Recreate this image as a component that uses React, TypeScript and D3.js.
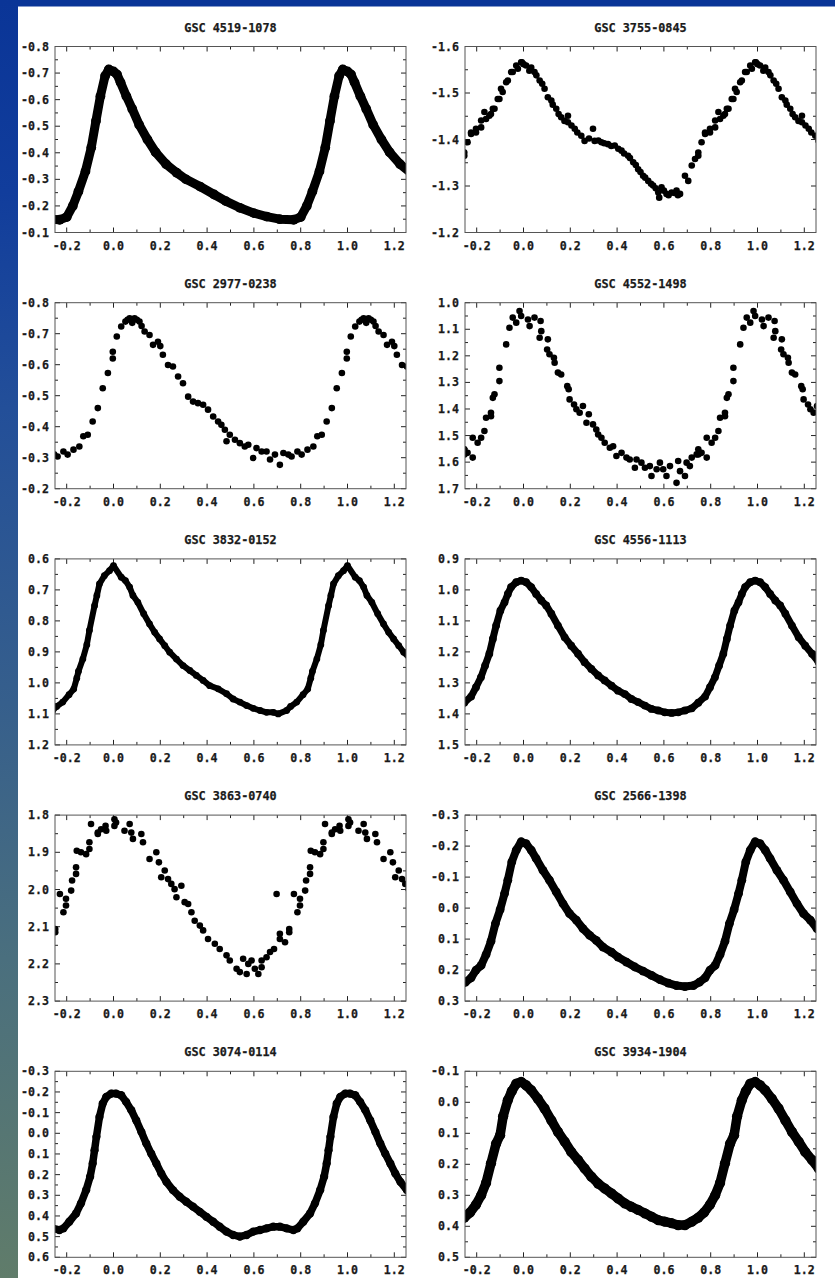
import * as d3 from "d3";

// star names, in reading order (left column, right column, row by row)
const titles = [
  "GSC 4519-1078",
  "GSC 3755-0845",
  "GSC 2977-0238",
  "GSC 4552-1498",
  "GSC 3832-0152",
  "GSC 4556-1113",
  "GSC 3863-0740",
  "GSC 2566-1398",
  "GSC 3074-0114",
  "GSC 3934-1904",
];

// y axis [top label, bottom label] for each panel
const yRanges = [
  [-0.8, -0.1],
  [-1.6, -1.2],
  [-0.8, -0.2],
  [1.0, 1.7],
  [0.6, 1.2],
  [0.9, 1.5],
  [1.8, 2.3],
  [-0.3, 0.3],
  [-0.3, 0.6],
  [-0.1, 0.5],
];

const xTicks = [-0.2, 0, 0.2, 0.4, 0.6, 0.8, 1.0, 1.2];

// phase (0..1), magnitude – repeated one cycle either side when drawn
const gsc4519_1078 = [
  [0.0, -0.706], [0.015, -0.695], [0.03, -0.665], [0.055, -0.613], [0.08, -0.565],
  [0.11, -0.505], [0.145, -0.45], [0.18, -0.402], [0.225, -0.357], [0.27, -0.325],
  [0.31, -0.3], [0.37, -0.273], [0.43, -0.243], [0.48, -0.218], [0.54, -0.193],
  [0.6, -0.173], [0.655, -0.16], [0.71, -0.15], [0.77, -0.148], [0.8, -0.158],
  [0.826, -0.2], [0.85, -0.254], [0.88, -0.33], [0.905, -0.42], [0.925, -0.52],
  [0.944, -0.613], [0.964, -0.689], [0.98, -0.714],
];

const gsc3755_0845 = [
  [0.0, -1.562], [0.011, -1.559], [0.025, -1.548], [0.033, -1.555], [0.047, -1.545],
  [0.055, -1.538], [0.069, -1.527], [0.08, -1.52], [0.09, -1.509], [0.104, -1.491],
  [0.119, -1.484], [0.125, -1.475], [0.14, -1.466], [0.15, -1.455], [0.161, -1.448],
  [0.175, -1.44], [0.19, -1.437], [0.19, -1.451], [0.205, -1.43], [0.219, -1.423],
  [0.23, -1.415], [0.247, -1.408], [0.261, -1.397], [0.28, -1.402], [0.297, -1.423],
  [0.304, -1.397], [0.32, -1.398], [0.333, -1.394], [0.345, -1.392], [0.361, -1.39],
  [0.375, -1.386], [0.39, -1.387], [0.405, -1.38], [0.419, -1.376], [0.43, -1.37],
  [0.447, -1.365], [0.455, -1.36], [0.469, -1.351], [0.48, -1.345], [0.49, -1.336],
  [0.5, -1.33], [0.511, -1.322], [0.52, -1.318], [0.533, -1.311], [0.545, -1.305],
  [0.554, -1.301], [0.565, -1.295], [0.576, -1.286], [0.58, -1.275], [0.59, -1.297],
  [0.6, -1.29], [0.611, -1.283], [0.62, -1.28], [0.633, -1.286], [0.645, -1.285],
  [0.654, -1.29], [0.66, -1.28], [0.669, -1.283], [0.69, -1.322], [0.704, -1.311],
  [0.719, -1.344], [0.733, -1.358], [0.747, -1.365], [0.747, -1.372], [0.761, -1.394],
  [0.776, -1.412], [0.776, -1.415], [0.797, -1.415], [0.797, -1.423], [0.819, -1.426],
  [0.819, -1.441], [0.833, -1.459], [0.84, -1.444], [0.854, -1.451], [0.861, -1.455],
  [0.869, -1.466], [0.876, -1.466], [0.89, -1.487], [0.897, -1.487], [0.904, -1.509],
  [0.911, -1.502], [0.926, -1.523], [0.933, -1.527], [0.947, -1.545], [0.954, -1.545],
  [0.969, -1.559], [0.976, -1.552], [0.99, -1.566], [0.993, -1.566],
];

const gsc2977_0238 = [
  [0.014, -0.691], [0.033, -0.723], [0.051, -0.739], [0.06, -0.745], [0.069, -0.75],
  [0.08, -0.735], [0.09, -0.75], [0.1, -0.745], [0.111, -0.739], [0.12, -0.725],
  [0.133, -0.707], [0.154, -0.696], [0.169, -0.664], [0.19, -0.674], [0.2, -0.66],
  [0.211, -0.632], [0.233, -0.599], [0.254, -0.594], [0.276, -0.562], [0.297, -0.54],
  [0.319, -0.497], [0.34, -0.481], [0.361, -0.476], [0.383, -0.471], [0.404, -0.455],
  [0.426, -0.433], [0.447, -0.417], [0.461, -0.406], [0.476, -0.39], [0.483, -0.353],
  [0.497, -0.374], [0.519, -0.358], [0.54, -0.347], [0.561, -0.336], [0.576, -0.342],
  [0.597, -0.299], [0.611, -0.331], [0.633, -0.32], [0.654, -0.32], [0.669, -0.294],
  [0.69, -0.31], [0.711, -0.277], [0.726, -0.315], [0.747, -0.31], [0.761, -0.304],
  [0.786, -0.32], [0.804, -0.31], [0.829, -0.326], [0.854, -0.336], [0.871, -0.369],
  [0.89, -0.374], [0.911, -0.417], [0.933, -0.46], [0.954, -0.524], [0.976, -0.573],
  [0.997, -0.642], [0.997, -0.62],
];

const gsc4552_1498 = [
  [0.019, 1.063], [0.026, 1.088], [0.047, 1.056], [0.069, 1.132], [0.073, 1.069],
  [0.076, 1.107], [0.101, 1.176], [0.104, 1.138], [0.111, 1.194], [0.13, 1.207],
  [0.133, 1.226], [0.147, 1.263], [0.161, 1.27], [0.187, 1.314], [0.193, 1.326],
  [0.197, 1.364], [0.216, 1.383], [0.226, 1.401], [0.24, 1.414], [0.254, 1.389],
  [0.269, 1.452], [0.279, 1.42], [0.297, 1.458], [0.311, 1.477], [0.319, 1.496],
  [0.333, 1.508], [0.347, 1.527], [0.369, 1.546], [0.383, 1.54], [0.397, 1.577],
  [0.419, 1.565], [0.44, 1.583], [0.454, 1.59], [0.476, 1.621], [0.483, 1.59],
  [0.504, 1.602], [0.519, 1.621], [0.54, 1.615], [0.547, 1.652], [0.569, 1.627],
  [0.583, 1.602], [0.597, 1.627], [0.611, 1.652], [0.626, 1.615], [0.654, 1.678],
  [0.661, 1.596], [0.669, 1.634], [0.69, 1.652], [0.697, 1.602], [0.711, 1.615],
  [0.719, 1.583], [0.74, 1.571], [0.747, 1.552], [0.747, 1.571], [0.761, 1.565],
  [0.783, 1.583], [0.783, 1.508], [0.804, 1.527], [0.819, 1.508], [0.833, 1.483],
  [0.84, 1.433], [0.861, 1.427], [0.861, 1.414], [0.869, 1.358], [0.876, 1.345],
  [0.897, 1.295], [0.897, 1.245], [0.926, 1.157], [0.94, 1.094], [0.954, 1.056],
  [0.969, 1.075], [0.983, 1.031], [0.99, 1.05],
];

const gsc3832_0152 = [
  [0.0, 0.622], [0.033, 0.659], [0.051, 0.67], [0.069, 0.691], [0.083, 0.718],
  [0.104, 0.74], [0.129, 0.777], [0.154, 0.81], [0.176, 0.837], [0.197, 0.858],
  [0.219, 0.88], [0.24, 0.901], [0.269, 0.923], [0.297, 0.944], [0.326, 0.96],
  [0.354, 0.976], [0.383, 0.992], [0.411, 1.009], [0.447, 1.019], [0.483, 1.035],
  [0.511, 1.052], [0.54, 1.062], [0.569, 1.073], [0.597, 1.082], [0.626, 1.089],
  [0.654, 1.095], [0.683, 1.095], [0.704, 1.1], [0.74, 1.089], [0.757, 1.076],
  [0.783, 1.062], [0.81, 1.038], [0.83, 1.02], [0.843, 0.985], [0.85, 0.963],
  [0.869, 0.923], [0.886, 0.877], [0.897, 0.831], [0.919, 0.751], [0.929, 0.718],
  [0.94, 0.681], [0.961, 0.654], [0.983, 0.638],
];

const gsc4556_1113 = [
  [0.011, 0.975], [0.033, 0.991], [0.054, 1.013], [0.076, 1.034], [0.097, 1.05],
  [0.119, 1.077], [0.147, 1.115], [0.176, 1.153], [0.204, 1.18], [0.233, 1.206],
  [0.261, 1.233], [0.29, 1.255], [0.319, 1.276], [0.347, 1.292], [0.376, 1.309],
  [0.404, 1.325], [0.433, 1.336], [0.461, 1.352], [0.49, 1.362], [0.519, 1.373],
  [0.547, 1.384], [0.576, 1.389], [0.604, 1.395], [0.633, 1.397], [0.661, 1.395],
  [0.69, 1.389], [0.719, 1.382], [0.747, 1.364], [0.776, 1.344], [0.797, 1.314],
  [0.818, 1.282], [0.836, 1.244], [0.854, 1.206], [0.869, 1.158], [0.883, 1.115],
  [0.901, 1.067], [0.919, 1.04], [0.933, 1.013], [0.947, 0.991], [0.969, 0.975],
  [0.99, 0.97],
];

const gsc3863_0740 = [
  [0.004, 1.811], [0.004, 1.829], [0.011, 1.82], [0.047, 1.842], [0.069, 1.824],
  [0.076, 1.847], [0.083, 1.864], [0.119, 1.851], [0.126, 1.873], [0.154, 1.918],
  [0.183, 1.9], [0.194, 1.927], [0.204, 1.967], [0.219, 1.949], [0.233, 1.972],
  [0.247, 1.985], [0.261, 1.999], [0.269, 2.021], [0.29, 1.99], [0.304, 2.034],
  [0.319, 2.039], [0.333, 2.061], [0.347, 2.084], [0.369, 2.097], [0.383, 2.11],
  [0.404, 2.133], [0.433, 2.146], [0.454, 2.16], [0.483, 2.177], [0.497, 2.191],
  [0.526, 2.213], [0.54, 2.222], [0.554, 2.186], [0.569, 2.227], [0.576, 2.2],
  [0.59, 2.191], [0.604, 2.213], [0.619, 2.227], [0.633, 2.209], [0.633, 2.191],
  [0.654, 2.182], [0.669, 2.168], [0.686, 2.16], [0.697, 2.012], [0.711, 2.133],
  [0.711, 2.119], [0.733, 2.142], [0.751, 2.106], [0.751, 2.115], [0.771, 2.012],
  [0.786, 2.061], [0.797, 2.043], [0.797, 2.025], [0.819, 2.003], [0.823, 1.976],
  [0.84, 1.958], [0.84, 1.94], [0.843, 1.896], [0.861, 1.9], [0.883, 1.905],
  [0.897, 1.873], [0.897, 1.891], [0.904, 1.824], [0.933, 1.847], [0.933, 1.851],
  [0.947, 1.838], [0.966, 1.829], [0.969, 1.842],
];

const gsc2566_1398 = [
  [0.011, -0.208], [0.033, -0.187], [0.054, -0.16], [0.083, -0.122], [0.111, -0.09],
  [0.14, -0.052], [0.169, -0.014], [0.197, 0.018], [0.226, 0.039], [0.254, 0.066],
  [0.283, 0.088], [0.311, 0.104], [0.34, 0.126], [0.376, 0.142], [0.404, 0.158],
  [0.44, 0.174], [0.476, 0.19], [0.511, 0.203], [0.547, 0.217], [0.583, 0.231],
  [0.619, 0.242], [0.654, 0.25], [0.69, 0.253], [0.726, 0.25], [0.752, 0.239],
  [0.776, 0.225], [0.797, 0.2], [0.819, 0.185], [0.84, 0.15], [0.861, 0.107],
  [0.88, 0.05], [0.9, 0.005], [0.919, -0.047], [0.933, -0.09], [0.95, -0.149],
  [0.969, -0.187], [0.99, -0.214],
];

const gsc3074_0114 = [
  [0.011, -0.192], [0.033, -0.184], [0.054, -0.152], [0.076, -0.112], [0.097, -0.063],
  [0.119, -0.007], [0.14, 0.049], [0.161, 0.098], [0.183, 0.146], [0.204, 0.194],
  [0.226, 0.235], [0.254, 0.275], [0.283, 0.307], [0.311, 0.331], [0.34, 0.355],
  [0.369, 0.38], [0.397, 0.404], [0.426, 0.428], [0.454, 0.452], [0.483, 0.476],
  [0.511, 0.492], [0.54, 0.5], [0.569, 0.492], [0.597, 0.476], [0.626, 0.468],
  [0.654, 0.46], [0.683, 0.452], [0.711, 0.452], [0.74, 0.46], [0.769, 0.468],
  [0.786, 0.46], [0.811, 0.428], [0.84, 0.388], [0.861, 0.339], [0.883, 0.275],
  [0.9, 0.21], [0.911, 0.146], [0.919, 0.082], [0.927, 0.017], [0.94, -0.079],
  [0.954, -0.144], [0.969, -0.176], [0.99, -0.192],
];

const gsc3934_1904 = [
  [0.011, -0.055], [0.033, -0.039], [0.061, -0.012], [0.09, 0.02], [0.119, 0.058],
  [0.147, 0.095], [0.176, 0.127], [0.204, 0.16], [0.233, 0.186], [0.261, 0.213],
  [0.29, 0.24], [0.319, 0.262], [0.347, 0.278], [0.376, 0.294], [0.404, 0.31],
  [0.433, 0.326], [0.461, 0.337], [0.49, 0.347], [0.519, 0.358], [0.547, 0.369],
  [0.576, 0.38], [0.604, 0.385], [0.633, 0.39], [0.661, 0.396], [0.69, 0.396],
  [0.719, 0.385], [0.747, 0.372], [0.772, 0.355], [0.797, 0.33], [0.819, 0.3],
  [0.84, 0.26], [0.861, 0.197], [0.883, 0.133], [0.9, 0.106], [0.913, 0.045],
  [0.933, -0.007], [0.95, -0.036], [0.969, -0.06], [0.99, -0.066],
];

const panelData = [
  gsc4519_1078, gsc3755_0845,
  gsc2977_0238, gsc4552_1498,
  gsc3832_0152, gsc4556_1113,
  gsc3863_0740, gsc2566_1398,
  gsc3074_0114, gsc3934_1904,
];

// drawing style per panel: dense ones become a thick band, sparse ones dots
const markStyle = [
  { band: 9 }, { band: 0 },
  { band: 0 }, { band: 0 },
  { band: 6 }, { band: 7 },
  { band: 0 }, { band: 8 },
  { band: 7.5 }, { band: 9.5 },
];

const W = 835;
const H = 1278;
const colLeft = [55, 465];
const plotW = 351;
const plotH = 186;
const rowTop0 = 46.5;
const rowStep = 256.2;
const font = "'DejaVu Sans Mono', monospace";
const textStyle = {
  fontFamily: font,
  fontWeight: "bold",
  fill: "#1a1a1a",
  stroke: "#1a1a1a",
  strokeWidth: 0.25,
};

const fmt = (v) => (Math.abs(v) < 1e-9 ? "0.0" : v.toFixed(1));

// repeat the cycle so the panel covers phase -0.25 .. 1.25
function unfold(points) {
  const out = [];
  for (const [p, m] of points) {
    for (const k of [-1, 0, 1]) {
      const q = p + k;
      if (q >= -0.3 && q <= 1.3) out.push([q, m]);
    }
  }
  return out.sort((a, b) => a[0] - b[0]);
}

function Panel({ idx }) {
  const left = colLeft[idx % 2];
  const top = rowTop0 + Math.floor(idx / 2) * rowStep;
  const [y0, y1] = yRanges[idx];
  const x = d3.scaleLinear().domain([-0.25, 1.25]).range([left, left + plotW]);
  const y = d3.scaleLinear().domain([y0, y1]).range([top, top + plotH]);
  const n = Math.round(Math.abs(y1 - y0) * 10);
  const yMajor = y.ticks(n);
  const yMinor = y.ticks(n * 2).filter((t) => !yMajor.some((m) => Math.abs(m - t) < 1e-9));
  const xMinor = x.ticks(15).filter((t) => !xTicks.some((m) => Math.abs(m - t) < 1e-9));
  const pts = unfold(panelData[idx]);
  const { band } = markStyle[idx];
  const line = d3.line().x((d) => x(d[0])).y((d) => y(d[1]));
  const clipId = `clip-${idx}`;
  const bottom = top + plotH;
  const right = left + plotW;
  const tickCol = "#222";

  return (
    <g>
      <defs>
        <clipPath id={clipId}>
          <rect x={left} y={top} width={plotW} height={plotH} />
        </clipPath>
      </defs>
      <rect x={left} y={top} width={plotW} height={plotH} fill="#fff" />
      <text x={left + plotW / 2} y={top - 15} textAnchor="middle" fontSize={11.8} style={textStyle}>
        {titles[idx]}
      </text>

      {/* x ticks, mirrored on top */}
      {xTicks.map((t) => (
        <g key={`xm${t}`} stroke={tickCol} strokeWidth={1}>
          <line x1={x(t)} x2={x(t)} y1={bottom} y2={bottom - 5} />
          <line x1={x(t)} x2={x(t)} y1={top} y2={top + 5} />
        </g>
      ))}
      {xMinor.map((t) => (
        <g key={`xn${t}`} stroke={tickCol} strokeWidth={1}>
          <line x1={x(t)} x2={x(t)} y1={bottom} y2={bottom - 3} />
          <line x1={x(t)} x2={x(t)} y1={top} y2={top + 3} />
        </g>
      ))}
      {xTicks.map((t) => (
        <text key={`xl${t}`} x={x(t)} y={bottom + 17} textAnchor="middle" fontSize={11.6} style={textStyle}>
          {fmt(t)}
        </text>
      ))}

      {/* y ticks, mirrored on right */}
      {yMajor.map((t) => (
        <g key={`ym${t}`} stroke={tickCol} strokeWidth={1}>
          <line x1={left} x2={left + 5} y1={y(t)} y2={y(t)} />
          <line x1={right} x2={right - 5} y1={y(t)} y2={y(t)} />
        </g>
      ))}
      {yMinor.map((t) => (
        <g key={`yn${t}`} stroke={tickCol} strokeWidth={1}>
          <line x1={left} x2={left + 3} y1={y(t)} y2={y(t)} />
          <line x1={right} x2={right - 3} y1={y(t)} y2={y(t)} />
        </g>
      ))}
      {yMajor.map((t) => (
        <text key={`yl${t}`} x={left - 6} y={y(t) + 4} textAnchor="end" fontSize={11.6} style={textStyle}>
          {fmt(t)}
        </text>
      ))}

      <g clipPath={`url(#${clipId})`}>
        {band > 0 && (
          <path
            d={line(pts)}
            fill="none"
            stroke="#000"
            strokeWidth={band}
            strokeLinejoin="round"
            strokeLinecap="round"
          />
        )}
        {pts.map((d, i) => (
          <circle
            key={i}
            cx={x(d[0])}
            cy={y(d[1])}
            r={band > 0 ? band / 2 + 0.4 : 3.3}
            fill="#000"
          />
        ))}
      </g>

      <rect x={left} y={top} width={plotW} height={plotH} fill="none" stroke="#555" strokeWidth={1} />
    </g>
  );
}

export default function App() {
  return (
    <svg width={W} height={H} style={{ position: "absolute", left: 0, top: 0, background: "#fff" }}>
      <defs>
        <linearGradient id="side" x1="0" y1="0" x2="0" y2="1">
          <stop offset="0" stopColor="#0a3597" />
          <stop offset="0.15" stopColor="#113d9c" />
          <stop offset="0.32" stopColor="#234f99" />
          <stop offset="0.55" stopColor="#365f8c" />
          <stop offset="0.75" stopColor="#4a6f7e" />
          <stop offset="1" stopColor="#607c6a" />
        </linearGradient>
      </defs>
      <rect x={0} y={0} width={W} height={H} fill="#fff" />
      <rect x={0} y={0} width={W} height={6.5} fill="#0a3597" />
      <rect x={0} y={0} width={18} height={H} fill="url(#side)" />
      {titles.map((_, i) => (
        <Panel key={i} idx={i} />
      ))}
    </svg>
  );
}
